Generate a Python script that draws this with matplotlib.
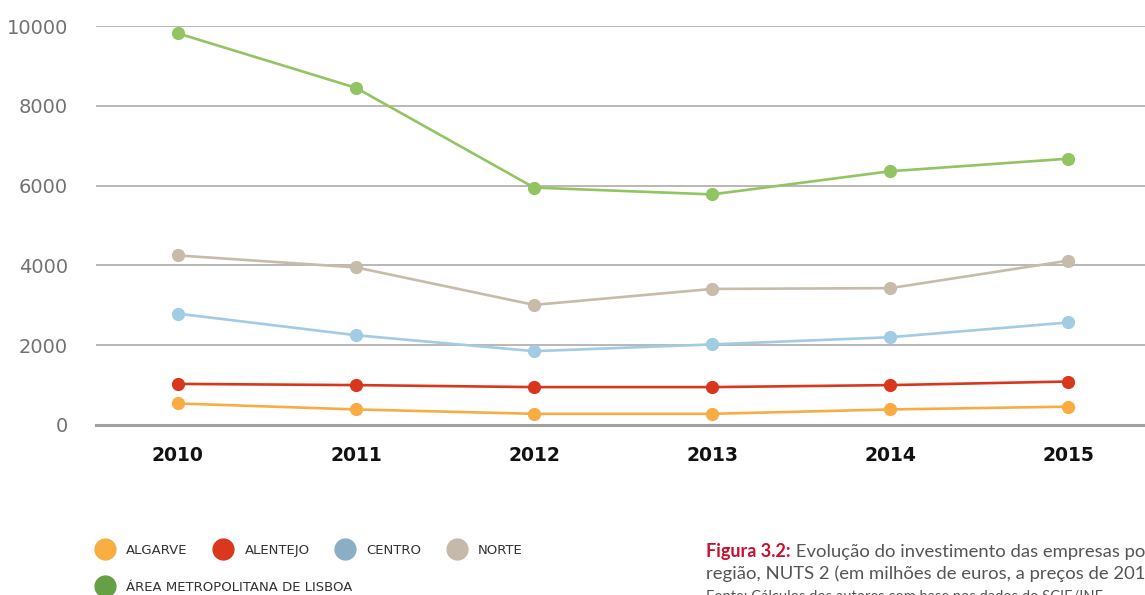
import matplotlib
matplotlib.use('Agg')
from matplotlib import pyplot as plt
from matplotlib.lines import Line2D

# dados (milhões de euros, preços de 2015)
anos = [2010, 2011, 2012, 2013, 2014, 2015]
algarve = [540, 390, 280, 280, 390, 460]
alentejo = [1030, 1000, 950, 950, 1000, 1090]
centro = [2790, 2250, 1850, 2020, 2200, 2570]
norte = [4250, 3950, 3010, 3410, 3430, 4120]
lisboa = [9816, 8450, 5950, 5780, 6360, 6675]

nomes = ['ALGARVE', 'ALENTEJO', 'CENTRO', 'NORTE',
         'ÁREA METROPOLITANA DE LISBOA']
cores_linha = ['#F9AC42', '#D9371C', '#A2CCE3', '#C7BBAA', '#92C462']
cores_legenda = ['#F9AE42', '#D9381E', '#8AAFC4', '#C5BAAA', '#65A044']

fig = plt.figure(figsize=(11.45, 5.95), dpi=100)
ax = fig.add_axes([96 / 1145, 170 / 595, 1 - 96 / 1145, 399 / 595])

series = [algarve, alentejo, centro, norte, lisboa]
for vals, cor in zip(series, cores_linha):
    ax.plot(anos, vals, color=cor, lw=1.9, marker='o', ms=8.5,
            solid_capstyle='round', zorder=3)

ax.set_xlim(2009.54, 2015.43)
ax.set_ylim(0, 10000)
ax.set_yticks([0, 2000, 4000, 6000, 8000, 10000])
ax.set_xticks(anos)
ax.yaxis.grid(True, color='#ABABAB', lw=1.2)
ax.set_axisbelow(True)
for s in ['top', 'right', 'left']:
    ax.spines[s].set_visible(False)
ax.spines['bottom'].set_color('#A0A0A0')
ax.spines['bottom'].set_linewidth(2.2)
ax.tick_params(axis='both', length=0)
ax.tick_params(axis='y', pad=20, labelsize=14, labelcolor='#727272')
ax.tick_params(axis='x', pad=15, labelsize=13.5, labelcolor='#111111')
for lb in ax.get_yticklabels():
    lb.set_fontfamily('DejaVu Sans')
for lb in ax.get_xticklabels():
    lb.set_fontfamily('DejaVu Sans')
    lb.set_fontweight('bold')

# legenda
hs = [Line2D([], [], ls='none', marker='o', ms=15, color=c, mec=c)
      for c in cores_legenda]
leg1 = fig.legend(hs[:4], nomes[:4], loc='upper left', ncol=4,
                  bbox_to_anchor=(96 / 1145, 1 - 544 / 595), frameon=False,
                  borderpad=0, borderaxespad=0, handlelength=1.4,
                  handletextpad=0.9, columnspacing=2.0,
                  prop={'family': 'DejaVu Sans', 'size': 9.5})
leg2 = fig.legend(hs[4:], nomes[4:], loc='upper left',
                  bbox_to_anchor=(96 / 1145, 1 - 581 / 595), frameon=False,
                  borderpad=0, borderaxespad=0, handlelength=1.4,
                  handletextpad=0.9,
                  prop={'family': 'DejaVu Sans', 'size': 9.5})
for lg in (leg1, leg2):
    for t in lg.get_texts():
        t.set_color('#333333')

# legenda da figura
t1 = fig.text(706 / 1145, 1 - 560 / 595, 'Figura 3.2:', color='#C8102E',
              fontsize=13, fontweight='bold', family='Lato', va='bottom')
ax.annotate(' Evolução do investimento das empresas por', xy=(1, 0),
            xycoords=t1, va='bottom', ha='left', fontsize=13.3,
            family='Lato', color='#555555', annotation_clip=False)
fig.text(706 / 1145, 1 - 582 / 595,
         'região, NUTS 2 (em milhões de euros, a preços de 2015)',
         color='#555555', fontsize=13.3, family='Lato', va='bottom')
fig.text(706 / 1145, 1 - 604 / 595,
         'Fonte: Cálculos dos autores com base nos dados do SCIE/INE.',
         color='#555555', fontsize=10.5, family='Lato', va='bottom')

fig.savefig('out.png', dpi=100)
